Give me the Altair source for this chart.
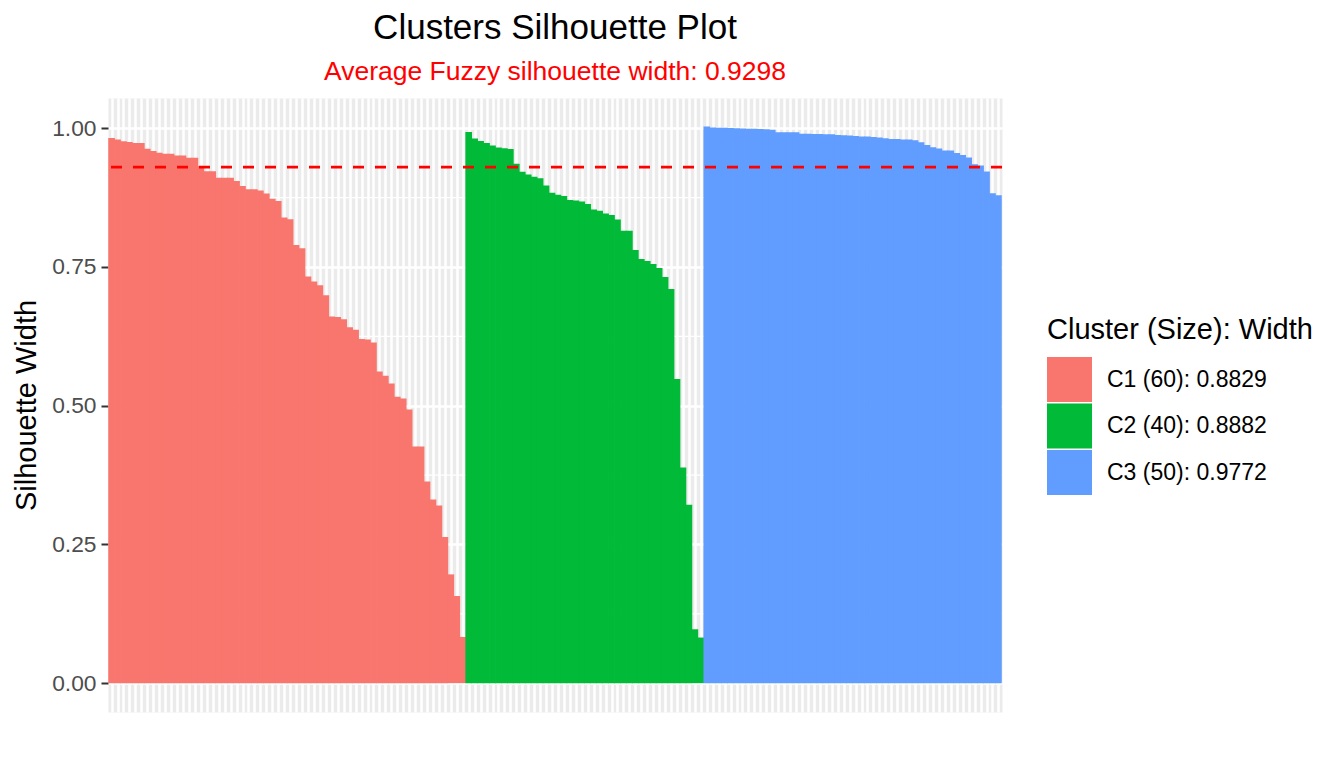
import altair as alt
import pandas as pd

# ---- data ----
c1_widths = [0.9826, 0.9796, 0.9766, 0.9750, 0.9736, 0.9736, 0.9630, 0.9590, 0.9560, 0.9540,
             0.9540, 0.9510, 0.9510, 0.9470, 0.9470, 0.9320, 0.9227, 0.9227, 0.9110, 0.9110,
             0.9110, 0.9050, 0.8957, 0.8900, 0.8900, 0.8880, 0.8825, 0.8730, 0.8690, 0.8390,
             0.8360, 0.7896, 0.7836, 0.7326, 0.7236, 0.7170, 0.6990, 0.6606, 0.6600, 0.6560,
             0.6415, 0.6367, 0.6200, 0.6195, 0.6140, 0.5617, 0.5540, 0.5400, 0.5160, 0.5130,
             0.4930, 0.4263, 0.4263, 0.3633, 0.3310, 0.3200, 0.2632, 0.1960, 0.1570, 0.0833]
c2_widths = [0.9934, 0.9814, 0.9772, 0.9736, 0.9688, 0.9652, 0.9640, 0.9628, 0.9358, 0.9214,
             0.9167, 0.9125, 0.9100, 0.8970, 0.8837, 0.8800, 0.8777, 0.8705, 0.8700, 0.8680,
             0.8633, 0.8537, 0.8513, 0.8465, 0.8435, 0.8357, 0.8153, 0.8153, 0.7806, 0.7644,
             0.7608, 0.7554, 0.7482, 0.7320, 0.7104, 0.5480, 0.3885, 0.3214, 0.0971, 0.0822]
c3_widths = [1.0030, 1.0015, 1.0010, 1.0010, 1.0005, 1.0000, 0.9995, 0.9990, 0.9990, 0.9985,
             0.9980, 0.9975, 0.9930, 0.9930, 0.9930, 0.9930, 0.9900, 0.9900, 0.9895, 0.9895,
             0.9890, 0.9890, 0.9880, 0.9875, 0.9870, 0.9862, 0.9850, 0.9850, 0.9844, 0.9832,
             0.9820, 0.9808, 0.9808, 0.9796, 0.9796, 0.9784, 0.9748, 0.9700, 0.9658, 0.9634,
             0.9598, 0.9598, 0.9555, 0.9519, 0.9472, 0.9350, 0.9330, 0.9220, 0.8829, 0.8793]
cluster_labels = ["C1 (60): 0.8829", "C2 (40): 0.8882", "C3 (50): 0.9772"]
cluster_colors = ["#F8766D", "#00BA38", "#619CFF"]
avg_width = [0.9298]
y_major = [0, 0.25, 0.5, 0.75, 1.0]
y_minor = [0.125, 0.375, 0.625, 0.875]

rows = []
idx = 1
for lab, vals in zip(cluster_labels, [c1_widths, c2_widths, c3_widths]):
    for v in vals:
        rows.append({"idx": idx, "width": v, "cluster": lab})
        idx += 1
df = pd.DataFrame(rows)
n = len(df)

FONT = "Liberation Sans"

x_scale = alt.Scale(domain=[0.4, n + 0.6], nice=False, zero=False)
y_scale = alt.Scale(domain=[-0.052, 1.0545], nice=False, zero=False)

x_axis = alt.Axis(values=list(range(1, n + 1)), grid=True, gridColor="white", gridWidth=2.5,
                  labels=False, ticks=False, domain=False, title=None)
y_axis = alt.Axis(values=y_major, format=".2f", grid=True, gridColor="white", gridWidth=2.6,
                  tickColor="#333333", tickWidth=2, tickSize=7, labelPadding=5,
                  labelFontSize=22.8, labelColor="#4D4D4D", labelFont=FONT, domain=False,
                  title="Silhouette Width", titleFontSize=29, titleFontWeight="normal",
                  titleColor="black", titleFont=FONT, titlePadding=10)

color_scale = alt.Scale(domain=cluster_labels, range=cluster_colors)

minor = alt.Chart(pd.DataFrame({"y": y_minor})).mark_rule(
    color="white", strokeWidth=1.3
).encode(y=alt.Y("y:Q", scale=y_scale, axis=y_axis))

# bars span one unit each; a tiny overlap hides anti-aliasing seams
bars = alt.Chart(df).transform_calculate(
    x0="datum.idx - 0.56", x1="datum.idx + 0.56"
).mark_bar(opacity=1, fillOpacity=1).encode(
    x=alt.X("x0:Q", scale=x_scale, axis=x_axis),
    x2="x1:Q",
    y=alt.Y("width:Q", scale=y_scale, axis=y_axis),
    y2=alt.datum(0),
    color=alt.Color("cluster:N", scale=color_scale, legend=alt.Legend(
        title="Cluster (Size): Width", orient="none", legendX=939, legendY=218,
        symbolType="square", symbolSize=2025, symbolStrokeWidth=0, symbolOpacity=1,
        labelFontSize=23, labelColor="black", labelFont=FONT, labelOffset=15,
        labelLimit=400, titleLimit=400,
        titleFontSize=29, titleFontWeight="normal", titleColor="black", titleFont=FONT,
        titlePadding=12, rowPadding=1.5, padding=0)),
)

avg_line = alt.Chart(pd.DataFrame({"avg": avg_width})).mark_rule(
    color="#FF0000", strokeWidth=2.7, strokeDash=[11, 11]
).encode(y=alt.Y("avg:Q", scale=y_scale, axis=y_axis))

chart = alt.layer(minor, bars, avg_line).properties(
    width=894, height=614,
    autosize=alt.AutoSizeParams(type="none"),
    padding={"left": 100, "top": 90, "right": 330, "bottom": 40},
    background="white",
    title=alt.TitleParams(
        text="Clusters Silhouette Plot",
        subtitle="Average Fuzzy silhouette width: 0.9298",
        anchor="middle", font=FONT, fontSize=35, fontWeight="normal", color="black",
        subtitleFont=FONT, subtitleFontSize=26.5, subtitleColor="#FF0000",
        subtitlePadding=13, offset=13),
).configure_view(fill="#EBEBEB", stroke="transparent")

chart.save("out.html", embed_options={"renderer": "svg", "actions": False})
